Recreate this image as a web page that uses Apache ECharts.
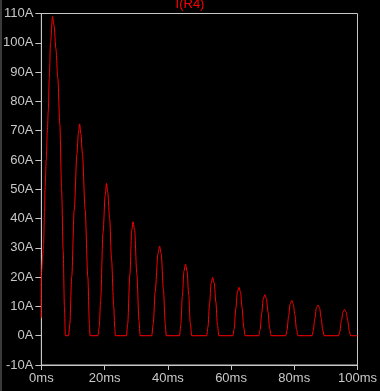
<!DOCTYPE html>
<html>
<head>
<meta charset="utf-8">
<script src="https://cdn.jsdelivr.net/npm/echarts@6/dist/echarts.min.js"></script>
<style>
html,body{margin:0;padding:0;background:#000;}
#chart{width:380px;height:391px;}
</style>
</head>
<body>
<div id="chart"></div>
<script>
// Trace title
const traceName = 'I(R4)';
// Axis ticks
const xTicks = [0, 20, 40, 60, 80, 100];          // ms
const yTicks = [-10, 0, 10, 20, 30, 40, 50, 60, 70, 80, 90, 100, 110]; // A

// Waveform samples: time (ms) and current (A)
const timeMs = [
  0, 0.02, 0.4, 0.7, 1.0, 1.15, 1.55, 1.9, 2.2, 2.5, 2.9, 3.54, 4.0, 4.6, 5.2, 5.85, 6.4, 6.9, 7.3, 7.6,
  8.6, 9.0, 9.6, 10.4, 11.25, 11.7, 12.1, 12.5, 13.0, 13.85, 14.7, 15.2, 15.4,
  17.9, 18.3, 18.75, 19.5, 20.2, 20.6, 21.0, 21.6, 22.2, 22.9, 23.2, 23.4,
  26.9, 27.3, 28.0, 28.6, 29.0, 29.5, 30.2, 30.9, 31.25,
  34.9, 35.4, 36.0, 36.9, 37.4, 37.9, 38.6, 39.2, 39.5,
  43.7, 44.1, 44.6, 45.1, 45.6, 46.1, 46.6, 47.1, 47.55,
  52.3, 52.7, 53.2, 53.7, 54.2, 54.7, 55.2, 55.7, 56.15,
  60.6, 61.0, 61.5, 62.0, 62.5, 63.0, 63.5, 64.0, 64.45,
  68.8, 69.2, 69.7, 70.2, 70.7, 71.2, 71.7, 72.2, 72.65,
  77.3, 77.7, 78.2, 78.7, 79.2, 79.7, 80.2, 80.7, 81.15,
  85.6, 86.0, 86.5, 87.0, 87.5, 88.0, 88.5, 89.0, 89.45,
  94.0, 94.4, 94.9, 95.4, 95.9, 96.4, 96.9, 97.4, 97.85,
  100
];
const currentA = [
  6, 21, 27, 31, 42, 50, 60, 70, 77, 88, 100, 109, 106, 98, 88, 72, 50, 29, 10, 0,
  0, 4, 20, 43, 62, 69, 72.3, 69, 62, 43, 20, 4, 0,
  0, 3, 12, 35, 48, 52, 49, 40, 26, 10, 3, 0,
  0, 4, 21, 36, 38.9, 36, 21, 5, 0,
  0, 4, 15, 28, 30.6, 28, 16, 4, 0,
  0, 3.7, 13.4, 22, 24.4, 22, 14.2, 4.4, 0,
  0, 3.0, 10.9, 17.9, 19.9, 17.9, 11.5, 3.6, 0,
  0, 2.5, 9.1, 14.9, 16.5, 14.9, 9.6, 3.0, 0,
  0, 2.1, 7.7, 12.6, 14, 12.6, 8.1, 2.5, 0,
  0, 1.8, 6.6, 10.8, 12, 10.8, 7.0, 2.2, 0,
  0, 1.6, 5.8, 9.5, 10.5, 9.5, 6.1, 1.9, 0,
  0, 1.4, 5.0, 8.1, 9, 8.1, 5.2, 1.6, 0,
  0
];

const seriesData = timeMs.map((t, i) => [t, currentA[i]]);
const fontFamily = '"Liberation Sans", Arial, sans-serif';
const gray = '#c8c8c8';
const red = '#ff0000';

const chart = echarts.init(document.getElementById('chart'), null, {renderer: 'canvas'});
chart.setOption({
  backgroundColor: '#000',
  animation: false,
  title: {
    text: traceName,
    left: 'center',
    top: -2,
    padding: 0,
    textStyle: {color: red, fontSize: 13, fontWeight: 'normal', fontFamily: fontFamily}
  },
  graphic: [{type: 'rect', left: 0, top: 0, shape: {width: 2, height: 391}, style: {fill: '#3a3a3a'}}],
  grid: {left: 40, right: 20, top: 13.5, bottom: 26, show: true, borderColor: gray, borderWidth: 1, backgroundColor: 'transparent'},
  xAxis: {
    type: 'value', min: xTicks[0], max: xTicks[xTicks.length - 1], interval: xTicks[1] - xTicks[0],
    axisLine: {show: true, onZero: false, lineStyle: {color: gray, width: 1}},
    axisTick: {show: true, inside: false, length: 5, lineStyle: {color: gray}},
    splitLine: {show: false},
    axisLabel: {color: gray, fontSize: 13, fontFamily: fontFamily, margin: 7, formatter: '{value}ms'}
  },
  yAxis: {
    type: 'value', min: yTicks[0], max: yTicks[yTicks.length - 1], interval: yTicks[1] - yTicks[0],
    axisLine: {show: true, onZero: false, lineStyle: {color: gray, width: 1}},
    axisTick: {show: true, inside: false, length: 6, lineStyle: {color: gray}},
    splitLine: {show: false},
    axisLabel: {color: gray, fontSize: 13, fontFamily: fontFamily, margin: 8, formatter: '{value}A'}
  },
  series: [{
    type: 'line',
    data: seriesData,
    showSymbol: false,
    smooth: 0.3,
    smoothMonotone: 'x',
    lineStyle: {color: red, width: 1},
    itemStyle: {color: red}
  }]
});
</script>
</body>
</html>
